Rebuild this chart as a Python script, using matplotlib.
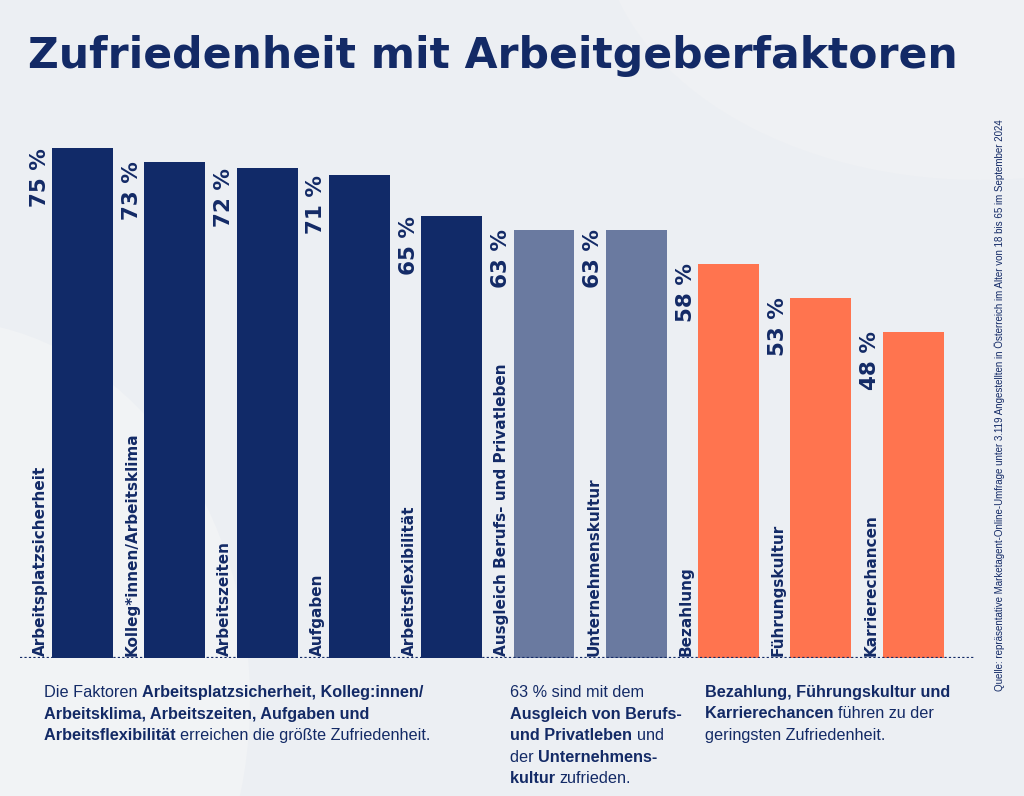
import matplotlib.pyplot as plt
from matplotlib.patches import Ellipse

# Daten
kategorien = ['Arbeitsplatzsicherheit', 'Kolleg*innen/Arbeitsklima', 'Arbeitszeiten',
              'Aufgaben', 'Arbeitsflexibilität', 'Ausgleich Berufs- und Privatleben',
              'Unternehmenskultur', 'Bezahlung', 'Führungskultur', 'Karrierechancen']
werte = [75, 73, 72, 71, 65, 63, 63, 58, 53, 48]
gruppen = [0, 0, 0, 0, 0, 1, 1, 2, 2, 2]

NAVY = '#132a66'
farben = ['#112a68', '#6a7aa0', '#ff744f']
BG = '#eceff3'

W, H = 1024, 796
fig = plt.figure(figsize=(W / 100, H / 100), dpi=100, facecolor=BG)

# dezente Hintergrundformen
bg = fig.add_axes([0, 0, 1, 1], zorder=-5)
bg.set_xlim(0, W)
bg.set_ylim(H, 0)
bg.axis('off')
bg.add_patch(Ellipse((-60, 700), 620, 760, color='#f1f3f5', lw=0))
bg.add_patch(Ellipse((980, -80), 760, 520, color='#eff1f4', lw=0))

# Achse für die Balken
left_px, right_px = 20, 975
base_px, top_px = 658, 114
ax = fig.add_axes([left_px / W, (H - base_px) / H, (right_px - left_px) / W,
                   (base_px - top_px) / H])
ax.set_facecolor('none')
pitch = 92.3
x0 = -(82.5 - left_px) / pitch
ax.set_xlim(x0, x0 + (right_px - left_px) / pitch)
ax.set_ylim(0, (base_px - top_px) / 6.8)
ax.axis('off')

xs = list(range(len(werte)))
ax.bar(xs, werte, width=0.66, color=[farben[g] for g in gruppen], zorder=2)
ax.axhline(0, color=NAVY, lw=1.6, linestyle=(0, (1, 1)), zorder=3)

for x, v, k in zip(xs, werte, kategorien):
    ax.text(x - 0.465, v, f'{v} %', rotation=90, ha='center', va='top',
            fontsize=15.5, fontweight='bold', color=NAVY)
    ax.text(x - 0.46, 0.3, k, rotation=90, ha='center', va='bottom',
            fontsize=11, fontweight='bold', color=NAVY)

# Titel
fig.text(28 / W, 1 - 56 / H, 'Zufriedenheit mit Arbeitgeberfaktoren',
         fontsize=30.6, fontweight='bold', color=NAVY, va='center', ha='left')

# Quelle
fig.text(1000 / W, 1 - 405 / H,
         'Quelle: repräsentative Marketagent-Online-Umfrage unter 3.119 Angestellten '
         'in Österreich im Alter von 18 bis 65 im September 2024',
         rotation=90, ha='center', va='center', fontsize=7.0,
         family='Liberation Sans', color=NAVY)


def rich_line(x, y, teile, size=11.7):
    # Teile einer Zeile aneinanderhängen (fett / normal)
    prev = None
    for txt, fett in teile:
        kw = dict(fontsize=size, color=NAVY, family='Liberation Sans',
                  fontweight='bold' if fett else 'normal')
        if prev is None:
            prev = fig.text(x / W, 1 - y / H, txt, ha='left', va='baseline', **kw)
        else:
            prev = ax.annotate(txt, xy=(1, 0), xycoords=prev,
                               ha='left', va='bottom', **kw)


zeilenabstand = 21.5
block1 = [
    [('Die Faktoren ', False), ('Arbeitsplatzsicherheit, Kolleg:innen/', True)],
    [('Arbeitsklima, Arbeitszeiten, Aufgaben und', True)],
    [('Arbeitsflexibilität ', True), ('erreichen die größte Zufriedenheit.', False)],
]
block2 = [
    [('63 % sind mit dem', False)],
    [('Ausgleich von Berufs-', True)],
    [('und Privatleben ', True), ('und', False)],
    [('der ', False), ('Unternehmens-', True)],
    [('kultur ', True), ('zufrieden.', False)],
]
block3 = [
    [('Bezahlung, Führungskultur und', True)],
    [('Karrierechancen ', True), ('führen zu der', False)],
    [('geringsten Zufriedenheit.', False)],
]
for bx, block in [(44, block1), (510, block2), (705, block3)]:
    for i, zeile in enumerate(block):
        rich_line(bx, 697 + i * zeilenabstand, zeile)

fig.savefig('out.png', dpi=100, facecolor=BG)
